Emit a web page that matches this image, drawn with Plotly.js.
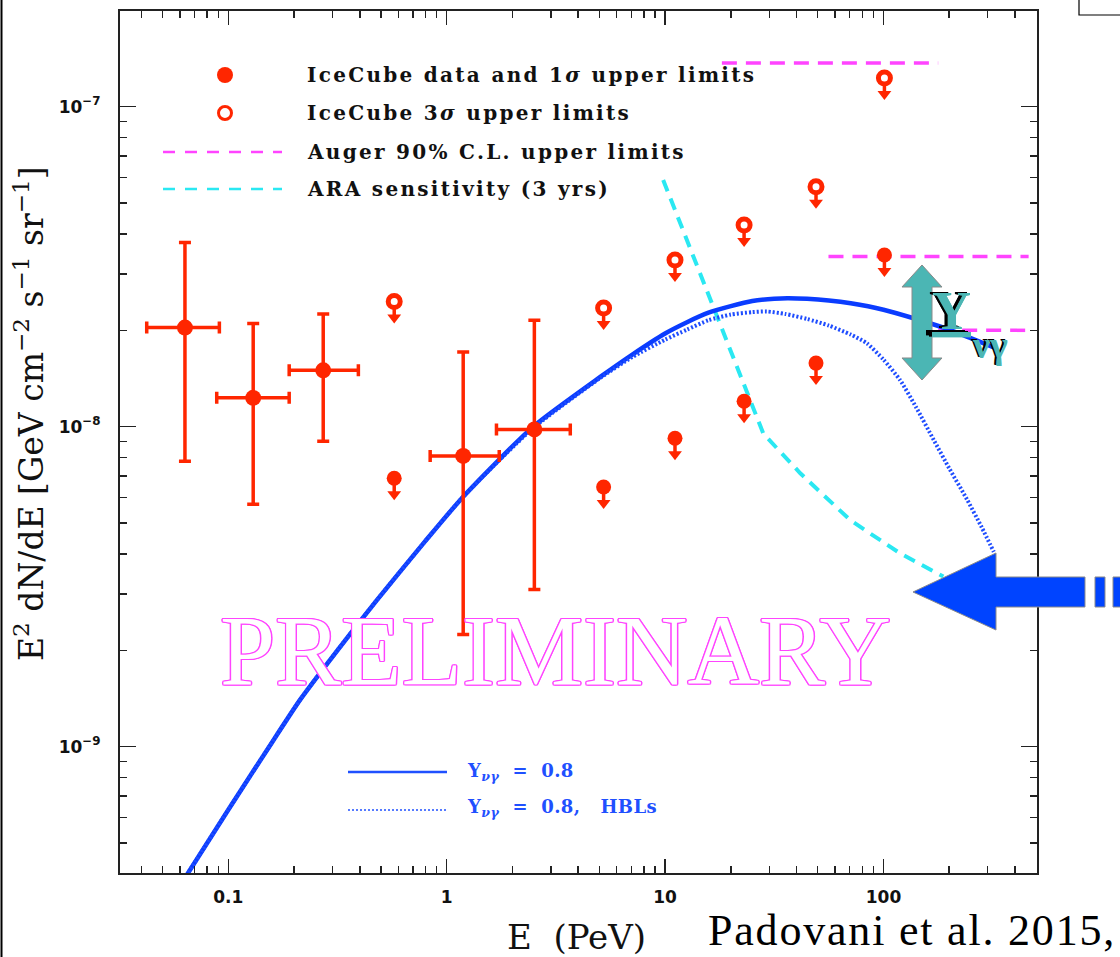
<!DOCTYPE html>
<html>
<head>
<meta charset="utf-8">
<script src="https://cdn.plot.ly/plotly-3.0.1.min.js"></script>
<style>
  html, body { margin: 0; padding: 0; background: #fff; }
  #chart { width: 1120px; height: 957px; }
  /* wide tracking for the key labels and the citation (unscoped so text measurement sees it too) */
  .annotation-text[style*="font-size: 20px"] { letter-spacing: 2.3px; }
  .annotation-text[style*="font-size: 18px"] { letter-spacing: 0.4px; }
  .annotation-text[style*="font-size: 44px"] { letter-spacing: 1.8px; }
</style>
</head>
<body>
<div id="chart"></div>
<script>
// IceCube measured points (PeV, GeV cm^-2 s^-1 sr^-1) with their bin edges and 1-sigma ranges
const energyData   = [0.0633, 0.130, 0.272, 1.19, 2.52];
const energyDataLo = [0.0423, 0.0885, 0.19, 0.84, 1.69];
const energyDataHi = [0.091, 0.19, 0.394, 1.74, 3.68];
const fluxData     = [2.04e-8, 1.23e-8, 1.50e-8, 8.1e-9, 9.8e-9];
const fluxDataLo   = [7.8e-9, 5.72e-9, 9.0e-9, 2.24e-9, 3.1e-9];
const fluxDataHi   = [3.76e-8, 2.1e-8, 2.25e-8, 1.71e-8, 2.15e-8];

// IceCube upper limits
const energyUL      = [0.575, 5.23, 11.1, 23.0, 49.1, 101];
const flux1sigmaUL  = [6.9e-9, 6.48e-9, 9.2e-9, 1.20e-8, 1.58e-8, 3.44e-8];
const flux3sigmaUL  = [2.46e-8, 2.35e-8, 3.32e-8, 4.27e-8, 5.62e-8, 1.23e-7];

// Auger 90% C.L. differential limits (horizontal segments)
const augerEmin = [18.2, 56, 178];
const augerEmax = [178, 462, 462];
const augerFlux = [1.37e-7, 3.4e-8, 2.0e-8];

// ARA sensitivity (3 yrs)
const araEnergy = [9.8, 14.5, 22.9, 28.2, 41.6, 70.5, 119, 188];
const araFlux   = [5.9e-8, 3.0e-8, 1.37e-8, 9.5e-9, 7.15e-9, 5.1e-9, 4.02e-9, 3.4e-9];

// Blazar neutrino predictions, Y_nu-gamma = 0.8 (all BL Lacs, and HBLs only)
const modelEnergy = [0.06, 0.1, 0.150, 0.213, 0.316, 0.479, 0.794, 1.19, 2.49, 5.05, 7.08, 10.0, 12.6, 15.8, 20.0, 25.1, 31.6, 36.3,
                     44.7, 56.2, 70.8, 100, 141, 200, 251, 320];
const modelFlux   = [3.67e-10, 6.35e-10, 9.73e-10, 1.40e-9, 2.00e-9, 2.87e-9, 4.37e-9, 6.04e-9, 1.0e-8, 1.43e-8, 1.68e-8, 1.955e-8,
                     2.12e-8, 2.27e-8, 2.38e-8, 2.47e-8, 2.51e-8, 2.52e-8, 2.51e-8, 2.48e-8, 2.43e-8, 2.32e-8, 2.17e-8, 2.01e-8,
                     1.89e-8, 1.77e-8];
const hblEnergy   = [0.06, 0.1, 0.150, 0.213, 0.316, 0.479, 0.794, 1.19, 2.49, 5.05, 7.08, 10.0, 12.6, 15.8, 20.0, 25.1, 29.2,
                     35.5, 44.7, 56.2, 70.8, 84.1, 100, 119, 141, 170, 200, 242, 282, 320];
const hblFlux     = [3.67e-10, 6.35e-10, 9.73e-10, 1.40e-9, 2.00e-9, 2.87e-9, 4.37e-9, 6.04e-9, 9.9e-9, 1.42e-8, 1.65e-8, 1.87e-8,
                     2.01e-8, 2.15e-8, 2.24e-8, 2.28e-8, 2.29e-8, 2.25e-8, 2.17e-8, 2.07e-8, 1.94e-8, 1.82e-8, 1.62e-8, 1.40e-8,
                     1.15e-8, 9.08e-9, 7.41e-9, 5.90e-9, 4.84e-9, 4.06e-9];

// Axis ranges (log10) and ticks
const xRangeLog = [-1.496, 2.703];
const yRangeLog = [-9.395, -6.701];
const xTickVals = [0.1, 1, 10, 100];
const xTickText = ['0.1', '1', '10', '100'];
const yTickVals = [1e-9, 1e-8, 1e-7];
const yTickText = ['10<sup>\u22129</sup>', '10<sup>\u22128</sup>', '10<sup>\u22127</sup>'];

// Key labels
const legendLabels = ['IceCube data and 1<i>\u03c3</i> upper limits', 'IceCube 3<i>\u03c3</i> upper limits',
                      'Auger 90% C.L. upper limits', 'ARA sensitivity (3 yrs)'];
const modelLabels = ['Y<sub><i>\u03bd\u03b3</i></sub>\u00a0 = \u00a00.8',
                     'Y<sub><i>\u03bd\u03b3</i></sub>\u00a0 = \u00a00.8,\u00a0\u00a0 HBLs'];

// ---- styling ----
const RED = '#ff2600';
const MAGENTA = '#ff44ff';
const CYAN = '#2ae8f2';
const BLUE = '#0a3cff';
const TEAL = '#4bb6b4';

// plot-area geometry in page pixels, used to place overlay decorations
const M = {l: 120, r: 83, t: 11, b: 84};
const W = 1120 - M.l - M.r, H = 957 - M.t - M.b;
const px = x => (x - M.l) / W;
const py = y => (M.t + H - y) / H;
const path = pts => 'M' + pts.map(p => px(p[0]).toFixed(5) + ',' + py(p[1]).toFixed(5)).join('L') + 'Z';

// vertical pixels per decade, to size the upper-limit arrows
const decadePx = H / (yRangeLog[1] - yRangeLog[0]);
const dropBy = pixels => Math.pow(10, -pixels / decadePx);

// Auger segments joined with gaps
const augerX = [], augerY = [];
augerFlux.forEach((f, i) => { augerX.push(augerEmin[i], augerEmax[i], null); augerY.push(f, f, null); });

// arrow heads below each upper limit, with a stem reaching up to the circle
function limitArrows(flux) {
  const head = flux.map(f => f * dropBy(16));
  return {
    x: energyUL, y: head, mode: 'markers', hoverinfo: 'skip',
    marker: {symbol: 'triangle-down', size: 12, color: RED, line: {width: 0}},
    error_y: {type: 'data', symmetric: false, array: flux.map((f, i) => f * dropBy(6) - head[i]),
              arrayminus: head.map(() => 0), color: RED, thickness: 3.5, width: 0}
  };
}

const traces = [
  {x: araEnergy, y: araFlux, mode: 'lines', line: {color: CYAN, width: 4, dash: '12px,8px'}, hoverinfo: 'skip'},
  {x: augerX, y: augerY, mode: 'lines', line: {color: MAGENTA, width: 3.5, dash: '15px,9px'}, connectgaps: false, hoverinfo: 'skip'},
  {x: modelEnergy, y: modelFlux, mode: 'lines', line: {color: BLUE, width: 4.5, shape: 'spline', smoothing: 0.6}},
  {x: hblEnergy, y: hblFlux, mode: 'lines', line: {color: '#1f4dff', width: 4, dash: '2px,2px', shape: 'spline', smoothing: 0.6}},
  {x: energyData, y: fluxData, mode: 'markers', marker: {size: 16, color: RED},
   error_y: {type: 'data', symmetric: false, array: fluxDataHi.map((v, i) => v - fluxData[i]),
             arrayminus: fluxData.map((v, i) => v - fluxDataLo[i]), color: RED, thickness: 3.5, width: 6},
   error_x: {type: 'data', symmetric: false, array: energyDataHi.map((v, i) => v - energyData[i]),
             arrayminus: energyData.map((v, i) => v - energyDataLo[i]), color: RED, thickness: 3.5, width: 6}},
  limitArrows(flux1sigmaUL),
  limitArrows(flux3sigmaUL),
  {x: energyUL, y: flux1sigmaUL, mode: 'markers', marker: {size: 15, color: RED}},
  {x: energyUL, y: flux3sigmaUL, mode: 'markers', marker: {symbol: 'circle-open', size: 12, color: RED, line: {color: RED, width: 5}}}
];

const legendFont = {family: 'DejaVu Serif', size: 20, color: '#111', weight: 'bold'};
const modelFont = {family: 'DejaVu Serif', size: 18, color: '#1f50ff', weight: 'bold'};
const textAnn = (x, y, text, font, extra) => Object.assign({xref: 'paper', yref: 'paper', x: px(x), y: py(y),
  text: text, showarrow: false, font: font, xanchor: 'left', yanchor: 'middle'}, extra || {});

const annotations = [
  textAnn(305, 75, legendLabels[0], legendFont),
  textAnn(305, 113, legendLabels[1], legendFont),
  textAnn(305, 152, legendLabels[2], legendFont),
  textAnn(305, 189, legendLabels[3], legendFont),
  textAnn(465, 772, modelLabels[0], modelFont),
  textAnn(465, 808, modelLabels[1], modelFont),
  // watermark
  textAnn(555, 650, 'PRELIMINARY', {family: 'Liberation Serif', size: 99, color: '#ffffff',
    shadow: '1.4px 0 0 #ff44ff, -1.4px 0 0 #ff44ff, 0 1.4px 0 #ff44ff, 0 -1.4px 0 #ff44ff, 1px 1px 0 #ff44ff, -1px -1px 0 #ff44ff, 1px -1px 0 #ff44ff, -1px 1px 0 #ff44ff'},
    {xanchor: 'center'}),
  // Y_nu-gamma label beside the double arrow
  textAnn(951, 311, 'Y', {family: 'Liberation Serif', size: 54, color: TEAL, weight: 'bold', shadow: '-3px -1px 0 #000', lineposition: 'under'}, {xanchor: 'center'}),
  textAnn(990, 345, '\u03bd\u03b3', {family: 'Liberation Serif', size: 38, color: TEAL, weight: 'bold', shadow: '-2px -1px 0 #000'}, {xanchor: 'center'}),
  // axis titles and reference
  textAnn(29, 414, 'E<sup>2</sup> dN/dE [GeV cm<sup>\u22122</sup> s<sup>\u22121</sup> sr<sup>\u22121</sup>]',
    {family: 'DejaVu Serif', size: 33, color: '#111'}, {xanchor: 'center', textangle: -90}),
  textAnn(576, 937, 'E\u00a0 (PeV)', {family: 'DejaVu Serif', size: 34, color: '#111'}, {xanchor: 'center'}),
  textAnn(706, 957, 'Padovani et al. 2015,', {family: 'Liberation Serif', size: 44, color: '#000'}, {yanchor: 'bottom'})
];

const shapes = [
  // key symbols
  {type: 'circle', xref: 'paper', yref: 'paper', xsizemode: 'pixel', ysizemode: 'pixel', xanchor: px(225), yanchor: py(75),
   x0: -8, x1: 8, y0: -8, y1: 8, fillcolor: RED, line: {width: 0}},
  {type: 'circle', xref: 'paper', yref: 'paper', xsizemode: 'pixel', ysizemode: 'pixel', xanchor: px(225), yanchor: py(113),
   x0: -6.5, x1: 6.5, y0: -6.5, y1: 6.5, fillcolor: '#fff', line: {color: RED, width: 3}},
  {type: 'line', xref: 'paper', yref: 'paper', x0: px(163), x1: px(282), y0: py(152), y1: py(152), line: {color: MAGENTA, width: 2.5, dash: '12px,10px'}},
  {type: 'line', xref: 'paper', yref: 'paper', x0: px(163), x1: px(282), y0: py(189), y1: py(189), line: {color: CYAN, width: 2.5, dash: '12px,10px'}},
  {type: 'line', xref: 'paper', yref: 'paper', x0: px(348), x1: px(447), y0: py(772), y1: py(772), line: {color: '#1f50ff', width: 2.5}},
  {type: 'line', xref: 'paper', yref: 'paper', x0: px(348), x1: px(447), y0: py(810), y1: py(810), line: {color: '#1f50ff', width: 1.5, dash: '2px,2px'}},
  // double-headed arrow marking the Y_nu-gamma range
  {type: 'path', xref: 'paper', yref: 'paper', layer: 'above', fillcolor: TEAL, line: {color: '#8a8a8a', width: 1},
   path: path([[922, 265], [942, 287], [932, 287], [932, 358], [942, 358], [922, 380], [902, 358], [912, 358], [912, 287], [902, 287]])},
  // big blue arrow from the right
  {type: 'path', xref: 'paper', yref: 'paper', layer: 'above', fillcolor: '#0044ff', line: {color: '#8a8a8a', width: 1},
   path: path([[913, 592], [996, 553], [996, 577], [1085, 577], [1085, 607], [996, 607], [996, 630]])},
  {type: 'path', xref: 'paper', yref: 'paper', layer: 'above', fillcolor: '#0044ff', line: {color: '#8a8a8a', width: 1},
   path: path([[1095, 577], [1105, 577], [1105, 607], [1095, 607]])},
  {type: 'path', xref: 'paper', yref: 'paper', layer: 'above', fillcolor: '#0044ff', line: {color: '#8a8a8a', width: 1},
   path: path([[1113, 577], [1125, 577], [1125, 607], [1113, 607]])},
  // slide frame remnants
  {type: 'line', xref: 'paper', yref: 'paper', x0: px(1.5), x1: px(1.5), y0: py(-2), y1: py(960), line: {color: '#000', width: 2}},
  {type: 'rect', xref: 'paper', yref: 'paper', x0: px(1079), x1: px(1130), y0: py(15), y1: py(-5), line: {color: '#000', width: 1.2}}
];

const axisCommon = {
  type: 'log', ticks: 'inside', ticklen: 14, tickwidth: 1.5, tickcolor: '#222',
  showline: true, linecolor: '#222', linewidth: 2, mirror: 'ticks', showgrid: false, zeroline: false,
  tickmode: 'array', tickfont: {family: 'DejaVu Sans', size: 17, color: '#111', weight: 'bold'},
  minor: {ticks: 'inside', ticklen: 7, tickwidth: 1.5, tickcolor: '#222', dtick: 'D1', showgrid: false}
};

const layout = {
  width: 1120, height: 957, margin: M, showlegend: false,
  paper_bgcolor: '#fff', plot_bgcolor: '#fff',
  xaxis: Object.assign({}, axisCommon, {range: xRangeLog, tickvals: xTickVals, ticktext: xTickText, ticklabelstandoff: 8}),
  yaxis: Object.assign({}, axisCommon, {range: yRangeLog, tickvals: yTickVals, ticktext: yTickText, ticklabelstandoff: 14, ticklen: 16}),
  annotations: annotations,
  shapes: shapes
};

Plotly.newPlot('chart', traces, layout, {displayModeBar: false, staticPlot: true});
</script>
</body>
</html>
